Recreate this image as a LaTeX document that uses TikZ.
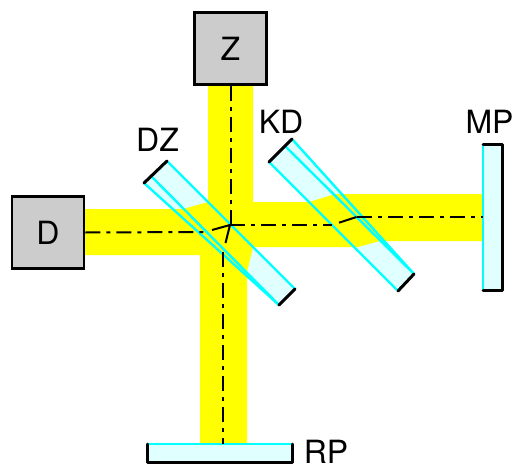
\documentclass[tikz,border=0pt]{standalone}
\usepackage{fontspec}
\setmainfont{TeX Gyre Heros}
\definecolor{beam}{HTML}{FFFF00}
\definecolor{glass}{HTML}{E0FFFF}
\definecolor{edgecyan}{HTML}{00FFFF}
\definecolor{boxgray}{HTML}{CCCCCC}
\tikzset{
  beamfill/.style={fill=beam,draw=none},
  glassfill/.style={fill=glass,draw=none},
  surface/.style={draw=edgecyan,line width=2.4pt},
  rim/.style={draw=black,line width=3pt,line cap=round,line join=round},
  unit/.style={draw=black,fill=boxgray,line width=2.8pt,minimum width=72pt,minimum height=72pt,inner sep=0pt,font=\fontsize{32}{32}\selectfont},
  lab/.style={inner sep=0pt,anchor=base,font=\fontsize{32}{32}\selectfont},
  axis/.style={draw=black,line width=2pt,dash pattern=on 15pt off 6pt on 4pt off 6pt},
  kink/.style={draw=black,line width=2pt}
}
\begin{document}
\begin{tikzpicture}[x=1pt,y=-1pt]
\useasboundingbox (0,0) rectangle (513,465);
% glass plates
\fill[glassfill] (144,183) -- (167,161) -- (295,289) -- (279,305) -- cycle;
\fill[glassfill] (269,162) -- (292,139) -- (414,274) -- (398,291) -- cycle;
\fill[glassfill] (483,145) rectangle (502,290);
\fill[glassfill] (147,444) rectangle (292,462);
% beams
\fill[beamfill] (208,85) -- (253,85) -- (253,202) -- (309,202) -- (332,195) -- (380,241) -- (358,247) -- (253,247) -- (247,272) -- (247,444) -- (200,444) -- (200,255) -- (84,255) -- (84,209) -- (183,209) -- (208,202) -- cycle;
\fill[beamfill] (333,194) -- (483,194) -- (483,241) -- (380,241) -- cycle;
% plate surfaces
\draw[surface] (167,161) -- (295,289);
\draw[surface] (144,183) -- (279,305);
\draw[surface] (152,177) -- (279,305);
\draw[surface] (269,162) -- (398,291);
\draw[surface] (292,139) -- (414,274);
\draw[surface] (286,147) -- (414,274);
\draw[surface] (483,145) -- (483,290);
\draw[surface] (147,444) -- (292,444);
% plate rims
\draw[rim] (144,183) -- (167,161);
\draw[rim] (279,305) -- (295,289);
\draw[rim] (269,162) -- (292,139);
\draw[rim] (398,291) -- (414,274);
\draw[rim] (483,145) -- (502,145) -- (502,290) -- (483,290);
\draw[rim] (147,444) -- (147,462) -- (292,462) -- (292,444);
% units and labels
\node[unit] (Z) at (230.5,48.5) {Z};
\node[unit] (D) at (48,232.5) {D};
\node[lab] (DZ) at (157.5,151) {DZ};
\node[lab] (KD) at (281,134) {KD};
\node[lab] (MP) at (489.5,134) {MP};
\node[lab] (RP) at (326,463) {RP};
% optical axes
\coordinate (hitA) at (230,225);
\coordinate (hitB) at (356.5,217);
\draw[axis] ([xshift=.5pt]Z.south) -- ([xshift=.5pt]Z.south |- hitA);
\draw[axis] (hitA) -- (332,225);
\draw[axis] (hitB) -- (483,217);
\draw[axis] (D.east) -- (205,232);
\draw[axis] (223,252) -- (223,444);
\draw[kink] (212,230) -- (hitA) -- (225.5,243);
\draw[kink] (339,222.7) -- (hitB);
\end{tikzpicture}
\end{document}
